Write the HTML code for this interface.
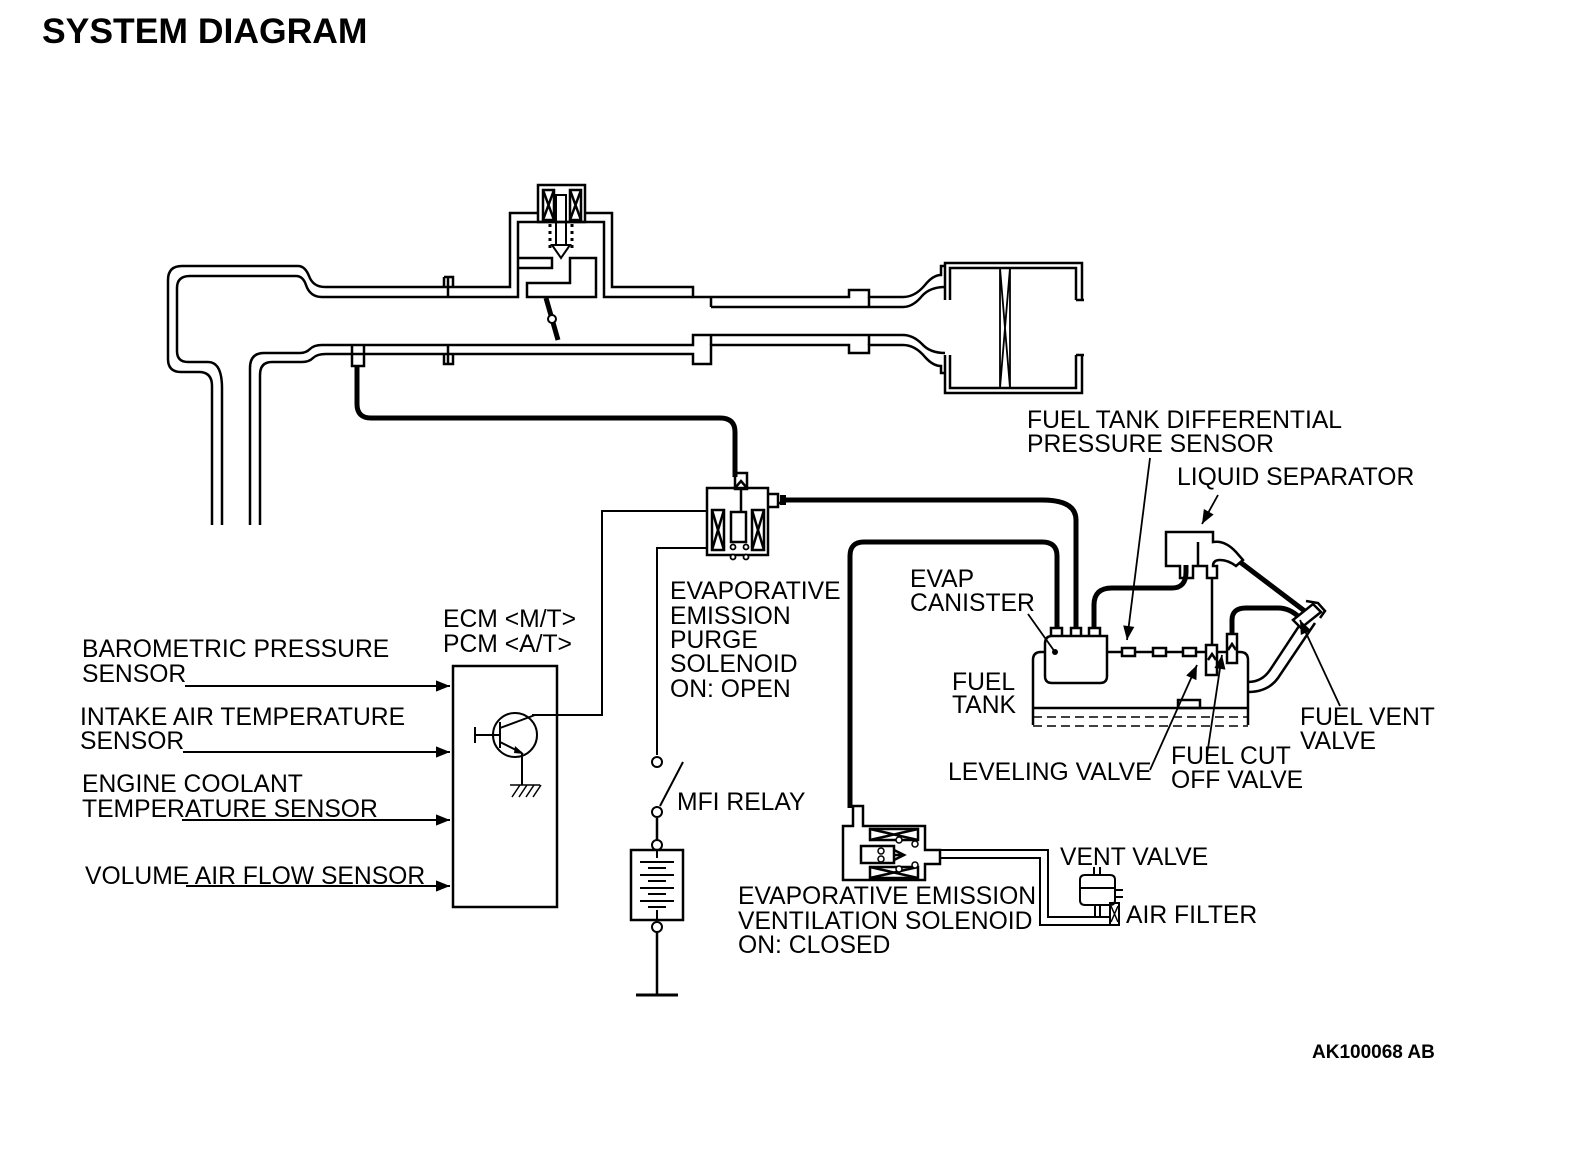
<!DOCTYPE html>
<html><head><meta charset="utf-8"><style>
html,body{margin:0;padding:0;background:#fff;}
svg{display:block;}
text{font-family:"Liberation Sans",Arial,sans-serif;font-size:24.7px;fill:#000;}
</style></head><body>
<svg width="1584" height="1152" viewBox="0 0 1584 1152" xmlns="http://www.w3.org/2000/svg">
<defs>
<marker id="ab" viewBox="0 0 10 10" refX="10" refY="5" markerWidth="26" markerHeight="14" markerUnits="userSpaceOnUse" orient="auto"><path d="M0,1 L10,5 L0,9 Z" fill="#000"/></marker>
</defs>
<text x="42" y="43" style="font-size:35.5px;font-weight:bold">SYSTEM DIAGRAM</text>

<g fill="none" stroke="#000" stroke-width="2.5">
<path d="M212,525 V386 Q212,372 199,372 H181 Q168,372 168,359 V280 Q168,266 182,266 H298 Q305,266 309,276 Q313,287 325,287 H510 V213 H538 M585,213 H612 V287 H693 V297 H711 V297 H849 V290 H869 V297 H903 Q915,297 925,285 Q933,275 941,275 V266 H945"/>
<path d="M222,525 V388 Q222,362 208,362 H188 Q177,362 177,351 V288 Q177,276 190,276 H296 Q303,276 306,285 Q310,297 322,297 H518 V258 H552 V268 H518 M518,258 V222 H604 V297 H693 M711,307 H903 Q913,307 922,296 Q930,287 945,287"/>
<path d="M250,525 V368 Q250,353 264,353 H300 Q306,353 310,349 Q314,345 322,345 H693 V335 H903 Q913,335 922,344 Q930,353 945,353"/>
<path d="M260,525 V375 Q260,362 272,362 H302 Q309,362 313,358 Q317,354 326,354 H693 V364 H711 V345 H849 V353 H869 V345 H903 Q915,345 925,357 Q933,366 941,366 V373 H945"/>
<path d="M570,258 H596 V297 H527 V283 H570 Z"/>
<path d="M444,277 V287 M444,277 H453 V287 M448,277 V297 M444,354 V364 H453 V354 M448,345 V364"/>
<path d="M711,297 V307 M869,297 V307 M711,335 V345 M869,335 V345"/>
<path d="M352,345 V366 H364 V345"/>
<rect x="538" y="185" width="47" height="37"/>
<rect x="543" y="190" width="11" height="30"/><path d="M543,190 L554,220 M554,190 L543,220"/>
<rect x="570" y="190" width="11" height="30"/><path d="M570,190 L581,220 M581,190 L570,220"/>
<rect x="556" y="195" width="10" height="50" stroke-width="2"/>
<path d="M552,245 H570 L561,258 Z" stroke-width="2"/>
<path d="M550,224 V250 M572,224 V250" stroke-dasharray="3,4" stroke-width="3"/>
<path d="M546,298 L558,340" stroke-width="5"/>
<!-- filter box -->
<path d="M945,300 V263 H1082 V300"/>
<path d="M945,355 V393 H1082 V355"/>
<path d="M950,300 V268 H1076 V300 M950,355 V388 H1076 V355"/>
<path d="M1076,300 H1084 M1076,355 H1084"/>
<path d="M1000,268 V388 M1010,268 V388 M1000,268 L1010,388 M1010,268 L1000,388" stroke-width="1.8"/>
</g>
<circle cx="552" cy="319" r="4" fill="#fff" stroke="#000" stroke-width="2"/>

<g fill="none" stroke="#000" stroke-width="5" stroke-linecap="butt">
<path d="M357,366 V404 Q357,418 371,418 H720 Q735,418 735,432 V477"/>
<path d="M785,500 H1042 Q1076,500 1076,520 V628"/>
<path d="M850,808 V556 Q850,542 864,542 H1042 Q1057,542 1057,556 V628"/>
<path d="M1094,628 V605 Q1094,588 1112,588 H1172 Q1186,588 1186,572 V565"/>
<path d="M1232,635 V620 Q1232,608 1246,608 H1278 Q1290,608 1300,618"/>
<path d="M1240,562 L1306,612"/>
</g>

<g fill="none" stroke="#000" stroke-width="2.5">
<rect x="735" y="473" width="12" height="16"/>
<path d="M735,488 L741,481 L747,488"/>
<rect x="707" y="488" width="61" height="67"/>
<path d="M768,494 H778 V503 H783 V497 M768,507 H778 V503"/>
<rect x="712" y="510" width="12" height="40"/><path d="M712,510 L724,550 M724,510 L712,550"/>
<rect x="752" y="510" width="12" height="40"/><path d="M752,510 L764,550 M764,510 L752,550"/>
<rect x="731" y="512" width="15" height="30"/>
<path d="M741,489 V512"/>
</g>
<g fill="#fff" stroke="#000" stroke-width="1.8">
<circle cx="733" cy="547" r="2.5"/><circle cx="746" cy="547" r="2.5"/>
<circle cx="733" cy="557" r="2.5"/><circle cx="746" cy="557" r="2.5"/>
</g>
<rect x="780" y="495" width="6" height="10" fill="#000"/>

<g fill="none" stroke="#000" stroke-width="2">
<path d="M532,715 H602 V511 H707"/>
<path d="M707,548 H657 V755"/>
<path d="M660,806 L683,762"/>
<path d="M657,818 V840 M657,932 V995" stroke-width="2.5"/>
<path d="M636,995 H678" stroke-width="3"/>
</g>
<g fill="#fff" stroke="#000" stroke-width="2">
<circle cx="657" cy="762" r="5"/><circle cx="657" cy="812" r="5"/>
<circle cx="657" cy="845" r="5"/><circle cx="657" cy="927" r="5"/>
</g>
<rect x="631" y="850" width="52" height="70" fill="none" stroke="#000" stroke-width="2.5"/>
<g stroke="#000">
<path d="M640,862 H674 M648,868 H666 M640,875 H674 M648,881 H666 M640,888 H674 M648,894 H666 M640,901 H674 M648,907 H666" stroke-width="2"/>
<path d="M657,850 V858 M657,910 V920" stroke-width="2"/>
</g>

<rect x="453" y="666" width="104" height="241" fill="none" stroke="#000" stroke-width="2.5"/>
<g fill="none" stroke="#000" stroke-width="2">
<circle cx="515" cy="735" r="22"/>
<path d="M475,735 H500 M475,727 V743 M500,722 V748 M500,728 L535,715 M500,742 L522,753 M522,753 V785"/>
<path d="M510,785 H540 M512,797 L520,785 M519,797 L527,785 M526,797 L534,785 M533,797 L541,785" stroke-width="1.5"/>
</g>
<path d="M515,746 L524,754 L514,753 Z" fill="#000"/>
<g stroke="#000" stroke-width="2" fill="none">
<path d="M185,686 H450" marker-end="url(#ab)"/>
<path d="M183,752 H450" marker-end="url(#ab)"/>
<path d="M182,820 H450" marker-end="url(#ab)"/>
<path d="M186,886 H450" marker-end="url(#ab)"/>
</g>

<g fill="none" stroke="#000" stroke-width="2.5">
<path d="M1033,725 V660 Q1033,652 1041,652 H1045 M1107,652 H1208 M1217,652 H1227 M1237,652 H1240 Q1248,652 1248,660 V725"/>
<path d="M1033,708 H1248" />
<path d="M1033,717 H1248 M1033,726 H1248" stroke-dasharray="9,5" stroke-width="1.5"/>
<rect x="1178" y="700" width="22" height="8"/>
<path d="M1045,644 Q1045,636 1052,636 H1107 V676 Q1107,683 1100,683 H1052 Q1045,683 1045,676 Z"/>
<path d="M1051,636 V628 H1062 V636 M1071,636 V628 H1081 V636 M1089,636 V628 H1100 V636"/>
<rect x="1122" y="648" width="13" height="8" fill="#fff"/>
<rect x="1153" y="648" width="13" height="8" fill="#fff"/>
<rect x="1183" y="648" width="13" height="8" fill="#fff"/>
<rect x="1206" y="645" width="11" height="30" fill="#fff"/>
<path d="M1208,660 L1212,654 L1216,660"/>
<rect x="1227" y="634" width="10" height="29" fill="#fff"/>
<path d="M1228,650 L1232,644 L1236,650"/>
<path d="M1212,578 V645"/>
<path d="M1166,532 H1213 V542 Q1225,540 1236,552 L1243,560 L1236,566 Q1228,560 1220,560 Q1213,560 1213,566 H1217 V578 H1207 V566 H1193 V578 H1180 V566 H1166 Z"/>
<path d="M1198,542 V566"/>
<path d="M1248,682 Q1262,682 1270,670 L1305,617 M1248,692 Q1268,692 1278,678 L1315,623"/>
<path d="M1293,620 L1313,604 L1321,612 L1301,628 Z" fill="#fff"/>
<path d="M1306,601 L1318,603 L1325,611 L1320,618"/>
</g>

<g fill="none" stroke="#000" stroke-width="2.5">
<path d="M843,826 H853 V806 H863 V826 H925 V850 H940 V864 H925 V880 H843 Z"/>
<rect x="870" y="829" width="48" height="11"/><path d="M870,829 L918,840 M918,829 L870,840"/>
<rect x="870" y="867" width="48" height="11"/><path d="M870,867 L918,878 M918,867 L870,878"/>
<rect x="861" y="846" width="33" height="17"/>
<path d="M894,850 L904,855 L894,860 M894,855 H904"/>
<path d="M940,850 H1048 V917 H1110 M940,858 H1040 V925 H1110" stroke-width="2"/>
<path d="M1085,875 H1110 Q1115,875 1115,880 V900 Q1115,905 1110,905 H1085 Q1080,905 1080,900 V880 Q1080,875 1085,875 Z" stroke-width="2"/>
<path d="M1080,888 H1115 M1094,867 V875 M1100,867 V875 M1095,905 V917 M1100,905 V917 M1115,890 H1123 M1115,897 H1123" stroke-width="2"/>
<rect x="1110" y="903" width="9" height="22" stroke-width="2"/>
<path d="M1111,906 L1118,922 M1118,906 L1111,922" stroke-width="1.5"/>
</g>
<g fill="#fff" stroke="#000" stroke-width="1.5">
<circle cx="899" cy="840" r="3"/><circle cx="899" cy="869" r="3"/><circle cx="915" cy="844" r="3"/><circle cx="915" cy="865" r="3"/>
<circle cx="881" cy="851" r="3"/><circle cx="881" cy="859" r="3"/>
</g>

<g stroke="#000" stroke-width="1.8" fill="none">
<path d="M1150,458 L1127,640" marker-end="url(#ab)"/>
<path d="M1218,495 L1202,524" marker-end="url(#ab)"/>
<path d="M1028,614 L1055,652"/>
<path d="M1150,770 L1197,665" marker-end="url(#ab)"/>
<path d="M1207,755 L1222,655" marker-end="url(#ab)"/>
<path d="M1340,706 L1300,620" marker-end="url(#ab)"/>
</g>
<circle cx="1055" cy="652" r="3" fill="#000"/>

<text x="1027" y="428">FUEL TANK DIFFERENTIAL</text>
<text x="1027" y="452">PRESSURE SENSOR</text>
<text x="1177" y="485">LIQUID SEPARATOR</text>
<text x="910" y="587">EVAP</text>
<text x="910" y="611">CANISTER</text>
<text x="952" y="690">FUEL</text>
<text x="952" y="713">TANK</text>
<text x="1300" y="725">FUEL VENT</text>
<text x="1300" y="749">VALVE</text>
<text x="948" y="780">LEVELING VALVE</text>
<text x="1171" y="764">FUEL CUT</text>
<text x="1171" y="788">OFF VALVE</text>
<text x="670" y="599">EVAPORATIVE</text>
<text x="670" y="624">EMISSION</text>
<text x="670" y="648">PURGE</text>
<text x="670" y="672">SOLENOID</text>
<text x="670" y="697">ON: OPEN</text>
<text x="443" y="627">ECM &lt;M/T&gt;</text>
<text x="443" y="652">PCM &lt;A/T&gt;</text>
<text x="82" y="657">BAROMETRIC PRESSURE</text>
<text x="82" y="682">SENSOR</text>
<text x="80" y="725">INTAKE AIR TEMPERATURE</text>
<text x="80" y="749">SENSOR</text>
<text x="82" y="792">ENGINE COOLANT</text>
<text x="82" y="817">TEMPERATURE SENSOR</text>
<text x="85" y="884">VOLUME AIR FLOW SENSOR</text>
<text x="677" y="810">MFI RELAY</text>
<text x="1060" y="865">VENT VALVE</text>
<text x="1126" y="923">AIR FILTER</text>
<text x="738" y="904">EVAPORATIVE EMISSION</text>
<text x="738" y="929">VENTILATION SOLENOID</text>
<text x="738" y="953">ON: CLOSED</text>
<text x="1312" y="1058" style="font-size:19px;font-weight:bold">AK100068 AB</text>
</svg>
</body></html>
